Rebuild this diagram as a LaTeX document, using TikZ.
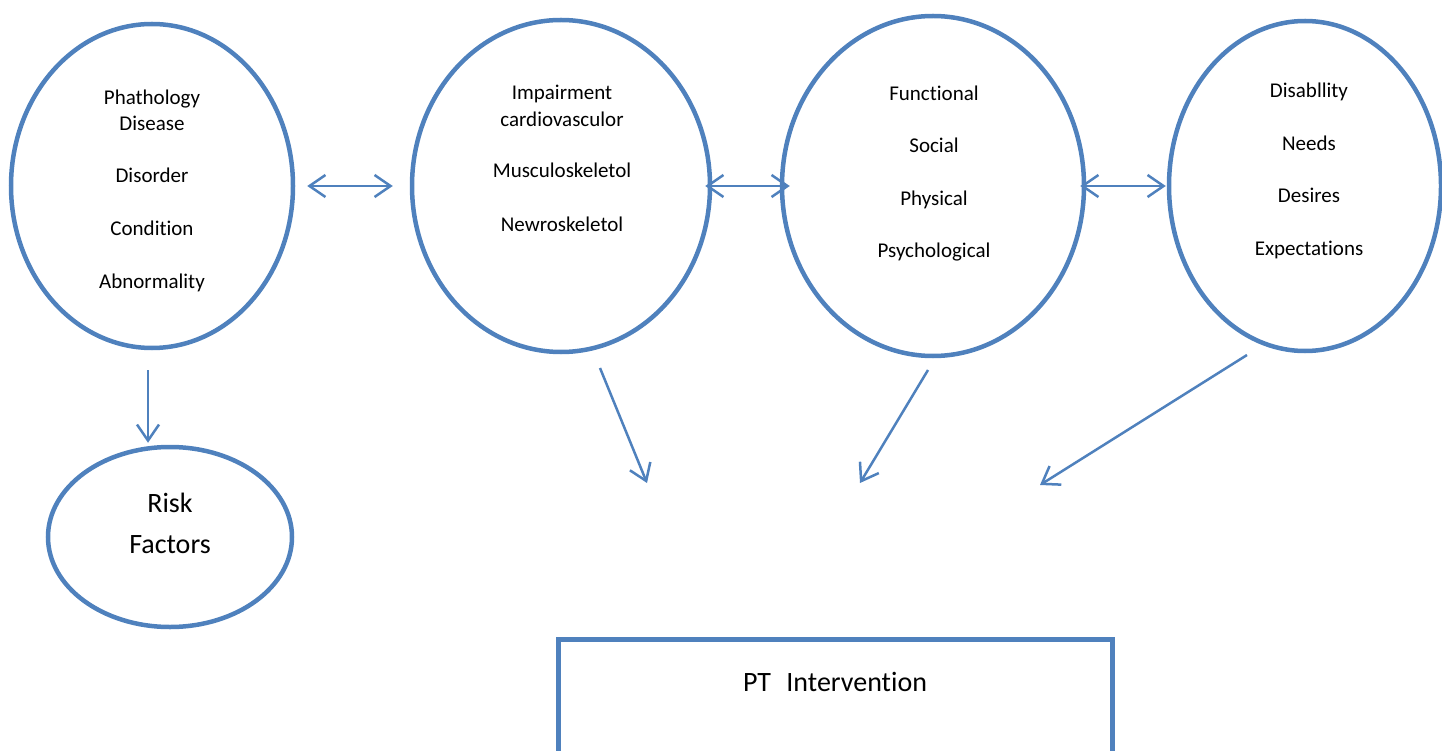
\documentclass[tikz,border=0pt]{standalone}
\usepackage{fontspec}
\setmainfont{Carlito}[Ligatures={NoCommon,NoContextual},Contextuals=NoAlternate]
\usetikzlibrary{arrows.meta}
\usetikzlibrary{shapes.geometric}
\usetikzlibrary{positioning}
\definecolor{ptblue}{HTML}{4F81BD}
\tikzset{blob/.style = {draw=ptblue, ellipse, line width=4.5pt, inner sep=0}}
\tikzset{lbl/.style = {anchor=base, font=\fontsize{21}{25}\selectfont}}
\tikzset{biglbl/.style = {anchor=base, font=\fontsize{28}{34}\selectfont}}
\tikzset{arr/.style = {draw=ptblue, line width=2.5pt,
                       -{Straight Barb[length=16pt,width=22pt]}}}
\tikzset{darr/.style = {arr, {Straight Barb[length=16pt,width=22pt]}-{Straight Barb[length=16pt,width=22pt]}}}

\begin{document}
\begin{tikzpicture}[x=1pt, y=-1pt]
    \useasboundingbox (0,0) rectangle (1442,751);

    \node[blob, minimum width=282pt, minimum height=324pt] (patho) at (152,186) {};
    \node[blob, minimum width=298pt, minimum height=332pt] (impair) at (561,186) {};
    \node[blob, minimum width=302pt, minimum height=340pt] (func) at (933,186) {};
    \node[blob, minimum width=272pt, minimum height=330pt] (disab) at (1305,186) {};
    \node[blob, minimum width=244pt, minimum height=180pt] (risk) at (170,537) {};
    \node[draw=ptblue, line width=5pt, inner sep=0, anchor=north,
          minimum width=554pt, minimum height=200pt] (ptbox) at (835,637) {};

    \foreach \txt/\y [count=\i] in {Phathology/105, Disease/131, Disorder/183,
                                    Condition/236, Abnormality/288}
      \node[lbl] (patho\i) at (152,\y) {\txt};
    \foreach \txt/\y [count=\i] in {Impairment/100, cardiovasculor/127,
                                    Musculoskeletol/178, Newroskeletol/232}
      \node[lbl] (impair\i) at (562,\y) {\txt};
    \foreach \txt/\y [count=\i] in {Functional/101, Social/153, Physical/206,
                                    Psychological/258}
      \node[lbl] (func\i) at (934,\y) {\txt};
    \foreach \txt/\y [count=\i] in {Disabllity/98, Needs/151, Desires/203,
                                    Expectations/255}
      \node[lbl] (disab\i) at (1309,\y) {\txt};

    \node[biglbl] (risk1) at (170,512) {Risk};
    \node[biglbl] (risk2) at (170,553) {Factors};
    \node[biglbl] (pttext) at (835,691) {PT\hspace{0.55em}Intervention};

    \draw[darr, shorten <=12pt, shorten >=17pt] (patho.east) -- (impair.west);
    \draw[darr, shorten <=-7pt, shorten >=-10pt] (impair.east) -- (func.west);
    \draw[darr, shorten <=-6pt, shorten >=1pt] (func.east) -- (disab.west);

    \draw[arr, shorten <=20pt, shorten >=2pt]
      ([xshift=-4pt]patho.south) -- ([xshift=-4pt]patho.south |- risk.north);

    \coordinate (impairout) at (600,368);
    \coordinate (impairtip) at (647,483);
    \coordinate (funcout) at (928,370);
    \coordinate (functip) at (860,483);
    \coordinate (disabout) at (1247,355);
    \coordinate (disabtip) at (1040,485);
    \draw[arr] (impairout) -- (impairtip);
    \draw[arr] (funcout) -- (functip);
    \draw[arr] (disabout) -- (disabtip);
\end{tikzpicture}
\end{document}
